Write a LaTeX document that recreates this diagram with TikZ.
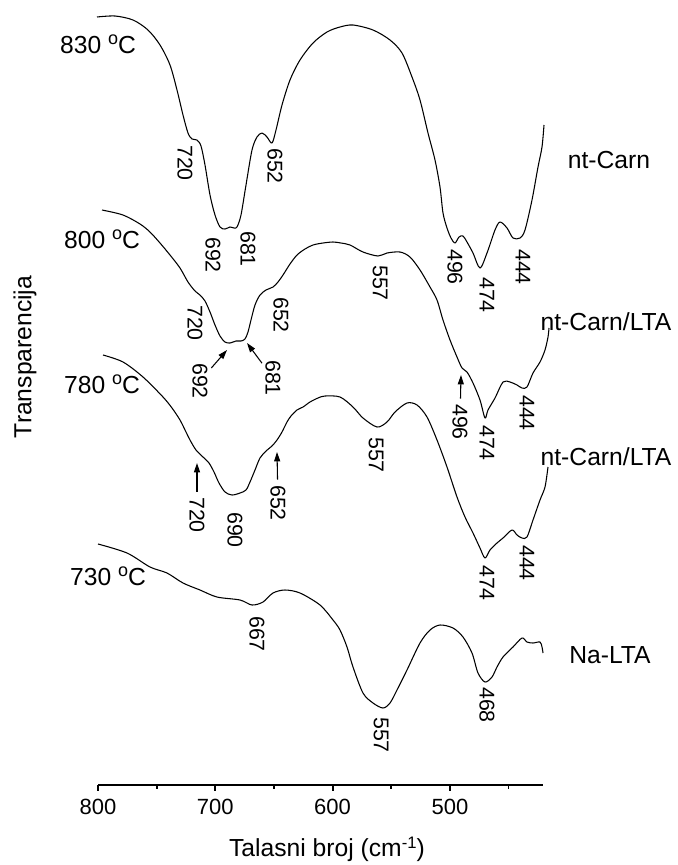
\documentclass[tikz,border=0pt]{standalone}
\usepackage{fontspec}
\setmainfont{Liberation Sans}
\usetikzlibrary{arrows.meta}
\newcommand{\raisedtext}[3]{\raisebox{#1}{\fontsize{#2}{#2}\selectfont #3}}

\begin{document}
\begin{tikzpicture}[x=0.75pt, y=-0.75pt,
	spec/.style={line width=0.8pt, line join=round},
	axis/.style={line width=1.4pt},
	peak/.style={rotate=-90, inner sep=0pt, font=\fontsize{16}{16}\selectfont},
	big/.style={inner sep=0pt, font=\fontsize{18.5}{18.5}\selectfont},
	peakarr/.style={-{Triangle[length=7pt, width=4.5pt]}, line width=0.8pt, shorten <=4pt}
]
	\useasboundingbox (0,0) rectangle (678,865);

	% spectra
	\draw[spec] plot[smooth, tension=0.5] coordinates {(97,17) (115,16) (133,20) (148,30) (160,45) (170,65) (177,90) (183,115) (188,133) (192,139) (197,140) (201,146) (205,165) (210,195) (215,215) (220,227) (225,229) (230,227) (234,228) (237,227) (241,215) (246,185) (252,150) (257,137) (262,133) (267,137) (272,143) (276,130) (282,105) (290,80) (300,60) (313,43) (327,32) (340,27) (353,25) (373,30) (390,40) (402,53) (412,77) (420,100) (428,133) (435,160) (440,187) (443,213) (447,228) (451,238) (455,243) (459,237) (463,236) (467,242) (473,253) (480,268) (487,253) (495,230) (500,222) (507,228) (513,238) (520,238) (525,230) (532,200) (538,167) (542,147) (544,125)};
	\draw[spec] plot[smooth, tension=0.5] coordinates {(102,210) (123,215) (140,224) (150,232) (160,243) (170,255) (180,268) (188,282) (195,291) (200,295) (205,301) (210,312) (215,325) (220,336) (225,342) (230,343) (236,341) (241,341) (245,339) (248,332) (251,320) (255,305) (260,295) (266,290) (273,287) (278,282) (283,275) (290,264) (297,255) (305,249) (313,245) (323,243) (333,242) (341,243) (350,245) (363,252) (378,256) (387,253) (400,252) (410,257) (420,270) (430,287) (437,300) (443,320) (450,340) (457,357) (462,368) (467,372) (473,383) (480,400) (485,418) (488,410) (495,398) (503,382) (510,382) (517,385) (522,388) (527,387) (533,373) (540,362) (545,350) (548,337) (549,328)};
	\draw[spec] plot[smooth, tension=0.5] coordinates {(103,355) (123,362) (143,377) (163,397) (172,408) (180,420) (186,432) (190,440) (196,450) (203,457) (209,463) (214,472) (219,483) (225,492) (232,495) (240,493) (246,490) (250,482) (255,470) (260,458) (266,451) (272,446) (277,440) (282,432) (287,422) (291,416) (297,410) (303,407) (310,402) (318,398) (325,396) (340,397) (353,407) (363,418) (377,427) (387,422) (395,412) (407,403) (417,405) (427,417) (437,440) (447,467) (457,497) (465,517) (473,533) (480,548) (485,558) (490,550) (497,543) (503,538) (512,530) (517,535) (522,538) (527,537) (533,520) (540,500) (545,487) (548,467)};
	\draw[spec] plot[smooth, tension=0.5] coordinates {(98,544) (127,553) (150,567) (167,573) (183,583) (200,590) (217,597) (240,600) (252,605) (263,602) (273,593) (285,590) (300,593) (320,605) (333,620) (340,630) (347,647) (353,667) (363,693) (373,703) (383,708) (390,703) (397,690) (407,670) (420,643) (430,630) (440,625) (453,628) (463,637) (472,653) (478,673) (485,682) (492,677) (497,667) (503,657) (513,647) (522,638) (527,642) (533,643) (540,642) (542,647) (543,653)};

	\node[big] (ta) at (98,44) {830 \raisedtext{7pt}{13.5}{o}C};
	\node[big] (tb) at (102,239) {800 \raisedtext{7pt}{13.5}{o}C};
	\node[big] (tc) at (102,384) {780 \raisedtext{7pt}{13.5}{o}C};
	\node[big] (td) at (108,576) {730 \raisedtext{7pt}{13.5}{o}C};
	\node[big] (sa) at (609,160) {nt-Carn};
	\node[big] (sb) at (606,322) {nt-Carn/LTA};
	\node[big] (sc) at (606,457) {nt-Carn/LTA};
	\node[big] (sd) at (610,655) {Na-LTA};

	\node[peak] (a720) at (185,163) {720};
	\node[peak] (a692) at (213,255) {692};
	\node[peak] (a681) at (248,249) {681};
	\node[peak] (a652) at (275,166) {652};
	\node[peak] (a496) at (455,267) {496};
	\node[peak] (a474) at (487,295) {474};
	\node[peak] (a444) at (523,267) {444};

	\node[peak] (b720) at (195,323) {720};
	\node[peak] (b692) at (200,381) {692};
	\node[peak] (b681) at (273,378) {681};
	\node[peak] (b652) at (281,315) {652};
	\node[peak] (b557) at (380,283) {557};
	\node[peak] (b496) at (460,422) {496};
	\node[peak] (b474) at (487,443) {474};
	\node[peak] (b444) at (527,413) {444};

	\node[peak] (c720) at (197,515) {720};
	\node[peak] (c690) at (235,530) {690};
	\node[peak] (c652) at (278,503) {652};
	\node[peak] (c557) at (376,455) {557};
	\node[peak] (c474) at (487,583) {474};
	\node[peak] (c444) at (527,563) {444};

	\node[peak] (d667) at (257,634) {667};
	\node[peak] (d557) at (381,735) {557};
	\node[peak] (d468) at (487,705) {468};

	% arrows to the weak bands
	\coordinate (kb692) at (227,350);
	\coordinate (kb681) at (247,343);
	\coordinate (kb496) at (461,375);
	\coordinate (kc720) at (197,463);
	\coordinate (kc652) at (277,452);
	\draw[peakarr] (b692) -- (kb692);
	\draw[peakarr] (b681) -- (kb681);
	\draw[peakarr] (b496) -- (kb496);
	\draw[peakarr] (c720) -- (kc720);
	\draw[peakarr] (c652) -- (kc652);

	% axis
	\coordinate (x0) at (98,785);
	\coordinate (x1) at (543,785);
	\draw[axis] (x0) -- (x1);
	\foreach \w in {800,700,600,500} {
		\draw[axis] ({98+(800-\w)*1.173},785) -- ++(0,6);
		\node[inner sep=0pt, font=\fontsize{16.5}{16.5}\selectfont] (n\w) at ({98+(800-\w)*1.173},807) {\w};
	}
	\foreach \w in {750,650,550,450}
		\draw[axis] ({98+(800-\w)*1.173},785) -- ++(0,3.5);

	\node[big] (xt) at (327,849) {Talasni broj (cm\raisedtext{6pt}{12.5}{-1})};
	\node[big, rotate=90] (yt) at (25,357) {Transparencija};
\end{tikzpicture}
\end{document}
